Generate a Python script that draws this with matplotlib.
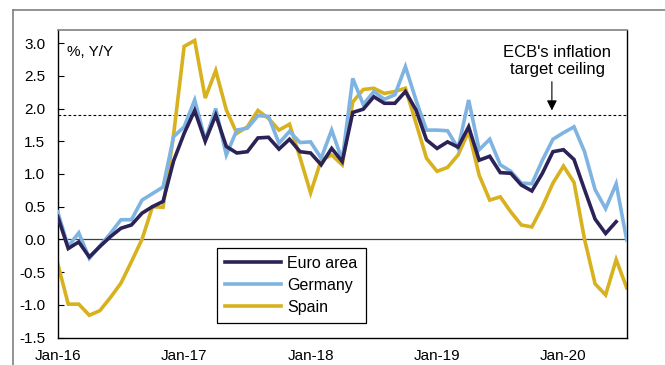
import matplotlib
matplotlib.use("Agg")
import matplotlib.pyplot as plt
from matplotlib.lines import Line2D

plt.rcParams['font.family'] = ['Liberation Sans', 'DejaVu Sans']

tick_labels = ["Jan-16", "Jan-17", "Jan-18", "Jan-19", "Jan-20"]
tick_months = [0, 12, 24, 36, 48]

euro = [0.35, -0.14, -0.04, -0.27, -0.11, 0.04, 0.17, 0.22, 0.40, 0.50, 0.58, 1.20,
        1.62, 1.97, 1.50, 1.90, 1.42, 1.32, 1.34, 1.55, 1.56, 1.38, 1.53, 1.34,
        1.32, 1.14, 1.39, 1.19, 1.94, 1.99, 2.18, 2.08, 2.08, 2.26, 1.98, 1.52,
        1.39, 1.49, 1.41, 1.72, 1.21, 1.27, 1.02, 1.01, 0.83, 0.74, 1.01, 1.34,
        1.37, 1.22, 0.76, 0.31, 0.09, 0.27]
germany = [0.42, -0.11, 0.10, -0.29, -0.10, 0.09, 0.30, 0.30, 0.60, 0.70, 0.80, 1.57,
           1.72, 2.13, 1.52, 2.00, 1.29, 1.67, 1.70, 1.89, 1.88, 1.47, 1.65, 1.48,
           1.49, 1.24, 1.67, 1.21, 2.46, 2.06, 2.26, 2.14, 2.21, 2.64, 2.13, 1.67,
           1.67, 1.66, 1.39, 2.13, 1.37, 1.53, 1.14, 1.04, 0.86, 0.85, 1.21, 1.53,
           1.63, 1.72, 1.34, 0.76, 0.47, 0.85, -0.01]
spain = [-0.37, -0.99, -0.99, -1.16, -1.09, -0.89, -0.67, -0.34, 0.00, 0.50, 0.49, 1.60,
         2.95, 3.04, 2.16, 2.58, 1.98, 1.62, 1.72, 1.97, 1.85, 1.67, 1.76, 1.25,
         0.71, 1.21, 1.29, 1.14, 2.10, 2.29, 2.31, 2.23, 2.26, 2.31, 1.78, 1.24,
         1.04, 1.10, 1.29, 1.65, 0.98, 0.60, 0.65, 0.42, 0.22, 0.19, 0.50, 0.86,
         1.12, 0.87, 0.00, -0.68, -0.85, -0.31, -0.74]
ceiling = 1.9

W, H = 665, 365
fig = plt.figure(figsize=(W / 100, H / 100), dpi=100)
ax = fig.add_axes([57.7 / W, 1 - 337.5 / H, (626.7 - 57.7) / W, (337.5 - 30) / H])

# outer frame lines
fig.add_artist(Line2D([12.7 / W, 1], [1 - 10 / H, 1 - 10 / H], color='#808080', lw=1.2,
                      transform=fig.transFigure))
fig.add_artist(Line2D([12.7 / W, 12.7 / W], [0, 1 - 10 / H], color='#808080', lw=1.2,
                      transform=fig.transFigure))

c_euro = '#2b2358'
c_ger = '#7fb3e2'
c_spa = '#d8b11e'
lw = 2.6

ax.axhline(0, color='#404040', lw=0.9, zorder=1)
ax.axhline(ceiling, color='black', lw=0.8, ls=(0, (2.5, 2)), zorder=1)

ax.plot(range(len(spain)), spain, color=c_spa, lw=lw, label='Spain', zorder=2,
        solid_joinstyle='miter')
ax.plot(range(len(germany)), germany, color=c_ger, lw=lw, label='Germany', zorder=3,
        solid_joinstyle='miter')
ax.plot(range(len(euro)), euro, color=c_euro, lw=lw, label='Euro area', zorder=4,
        solid_joinstyle='miter')

ax.set_xlim(0, 54)
ax.set_ylim(-1.5, 3.2)
yt = [-1.5, -1.0, -0.5, 0.0, 0.5, 1.0, 1.5, 2.0, 2.5, 3.0]
ax.set_yticks(yt)
ax.set_yticklabels([f"{v:.1f}" for v in yt])
ax.set_xticks(tick_months)
ax.set_xticklabels(tick_labels)
ax.tick_params(axis='y', direction='in', length=4, width=0.8, pad=9, labelsize=11)
ax.tick_params(axis='x', length=0, pad=8, labelsize=11)

for s in ['left', 'bottom', 'right']:
    ax.spines[s].set_color('black')
    ax.spines[s].set_linewidth(1.0)
ax.spines['top'].set_color('#808080')
ax.spines['top'].set_linewidth(1.2)

ax.text(0.016, 0.93, "%, Y/Y", transform=ax.transAxes, fontsize=11, va='center', ha='left')
ax.text(47.4, 2.73, "ECB's inflation\ntarget ceiling", ha='center', va='center',
        fontsize=12, linespacing=1.15)
ax.annotate("", xy=(46.9, 1.97), xytext=(46.9, 2.41),
            arrowprops=dict(arrowstyle='-|>', color='black', lw=0.8,
                            mutation_scale=15, shrinkA=0, shrinkB=0))

handles, labels = ax.get_legend_handles_labels()
order = [2, 1, 0]
leg = ax.legend([handles[i] for i in order], [labels[i] for i in order],
                loc='lower left', bbox_to_anchor=(0.28, 0.047), borderaxespad=0,
                fancybox=False, edgecolor='black', framealpha=1, fontsize=11.5,
                handlelength=3.5, handletextpad=0.4, labelspacing=0.45,
                borderpad=0.5)
leg.get_frame().set_linewidth(0.9)
leg.set_zorder(5)

fig.savefig("out.png", dpi=100)
